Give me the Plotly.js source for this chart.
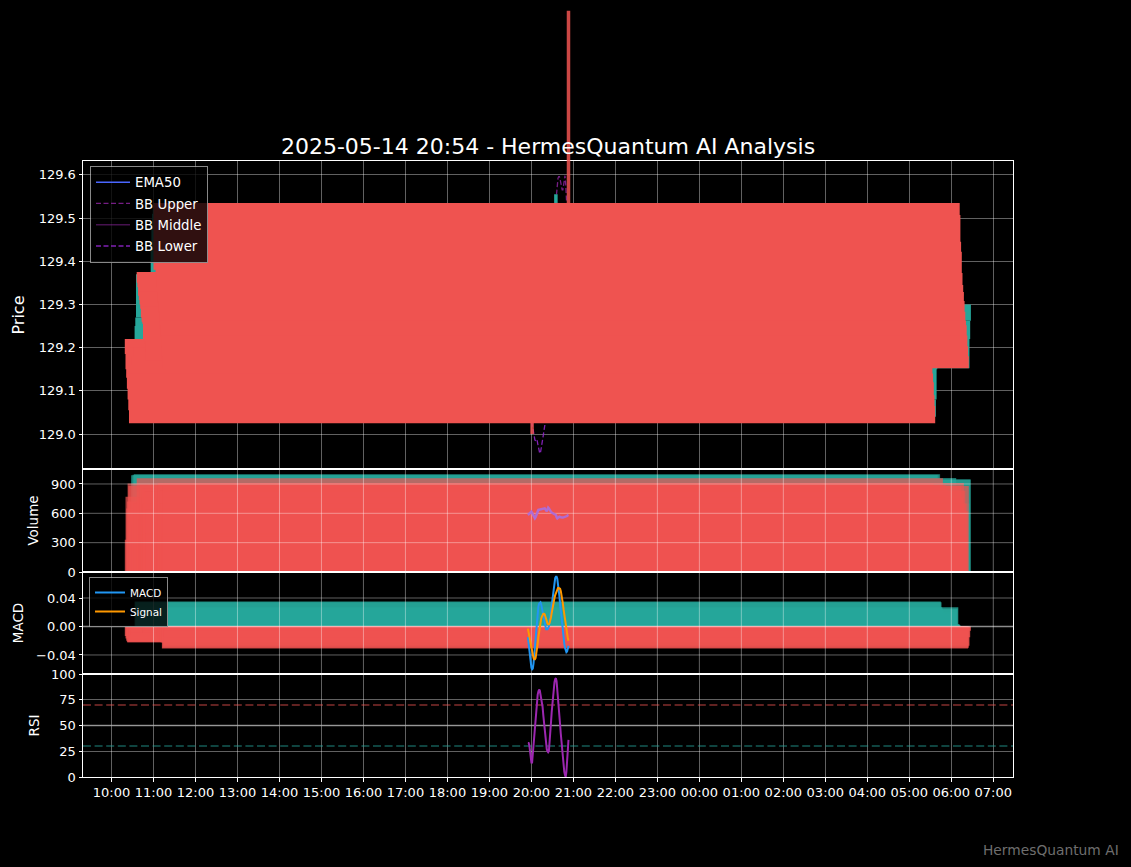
<!DOCTYPE html>
<html><head><meta charset="utf-8">
<script src="https://cdn.plot.ly/plotly-3.0.1.min.js"></script>
<style>html,body{margin:0;padding:0;background:#000;}#chart{width:1131px;height:867px;}</style>
</head><body><div id="chart"></div>
<script>
// ---------------- data ----------------
const DATE = '2025-05-14';
const NEXT_DATE = '2025-05-15';
const candleTimes = ['19:55','19:56','19:57','19:58','19:59',
 '20:00','20:01','20:02','20:03','20:04','20:05','20:06','20:07','20:08','20:09',
 '20:10','20:11','20:12','20:13','20:14','20:15','20:16','20:17','20:18','20:19',
 '20:20','20:21','20:22','20:23','20:24','20:25','20:26','20:27','20:28','20:29',
 '20:30','20:31','20:32','20:33','20:34','20:35','20:36','20:37','20:38','20:39',
 '20:40','20:41','20:42','20:43','20:44','20:45','20:46','20:47','20:48','20:49',
 '20:50','20:51','20:52','20:53'];
const openP = [129.220,129.200,129.160,129.140,129.120,129.090,129.065,129.040,129.080,129.150,
 129.180,129.160,129.200,129.180,129.210,129.250,129.270,129.375,129.365,129.350,
 129.330,129.320,129.305,129.295,129.280,129.275,129.260,129.220,129.245,129.215,
 129.195,129.170,129.210,129.260,129.300,129.330,129.360,129.375,129.430,129.480,
 129.510,129.535,129.507,129.445,129.422,129.373,129.345,129.329,129.308,129.283,
 129.263,129.252,129.228,129.203,129.180,129.152,129.220,129.262,129.300];
const closeP = [129.185,129.150,129.130,129.105,129.080,129.055,129.025,129.080,129.155,129.170,
 129.160,129.200,129.180,129.215,129.250,129.270,129.370,129.350,129.340,129.320,
 129.310,129.300,129.290,129.270,129.260,129.255,129.215,129.240,129.210,129.190,
 129.170,129.210,129.260,129.300,129.330,129.360,129.375,129.430,129.480,129.510,
 129.535,129.380,129.440,129.410,129.370,129.340,129.320,129.305,129.280,129.260,
 129.245,129.225,129.200,129.175,129.152,129.220,129.262,129.300,129.300];
const highP = [129.222,129.205,129.165,129.145,129.125,129.095,129.070,129.085,129.160,129.175,
 129.185,129.205,129.205,129.218,129.255,129.275,129.372,129.375,129.370,129.355,
 129.335,129.325,129.310,129.300,129.285,129.280,129.265,129.245,129.250,129.220,
 129.200,129.215,129.265,129.305,129.335,129.365,129.375,129.435,129.485,129.515,
 129.555,129.535,129.510,129.448,129.425,129.375,129.348,129.330,129.310,129.285,
 129.265,129.254,129.230,129.205,129.182,129.225,129.266,129.303,129.980];
const lowP = [129.180,129.148,129.125,129.100,129.075,129.050,129.000,129.030,129.075,129.145,
 129.155,129.155,129.175,129.175,129.205,129.245,129.265,129.345,129.335,129.315,
 129.305,129.295,129.285,129.265,129.258,129.253,129.210,129.215,129.205,129.185,
 129.165,129.165,129.205,129.255,129.295,129.325,129.355,129.370,129.425,129.475,
 129.505,129.375,129.435,129.405,129.365,129.335,129.315,129.300,129.276,129.256,
 129.242,129.222,129.197,129.172,129.150,129.150,129.216,129.258,129.280];
const volume = [330,770,650,720,905,880,540,610,420,990,
 480,995,700,1000,650,820,450,958,380,760,
 540,890,310,610,850,470,700,560,820,390,
 640,720,480,900,350,610,960,530,760,420,
 870,650,420,880,510,300,760,910,590,830,
 450,700,360,620,880,700,945,945,5];
const volumeMA = [583,592,600,606,612,617,605,588,570,555,
 549,560,580,605,630,635,637,639,640,641,
 643,645,647,649,651,640,625,620,640,658,
 650,634,625,615,608,603,600,595,590,586,
 583,560,549,555,562,566,562,558,557,556,
 556,558,560,562,564,566,572,580,583];
const ema50 = [129.215,129.212,129.208,129.204,129.199,129.194,129.188,129.184,129.183,129.183,
 129.182,129.183,129.183,129.184,129.187,129.190,129.197,129.203,129.208,129.213,
 129.217,129.221,129.224,129.226,129.228,129.229,129.229,129.230,129.229,129.227,
 129.225,129.225,129.226,129.229,129.233,129.238,129.243,129.250,129.259,129.268,
 129.278,129.282,129.288,129.292,129.295,129.297,129.298,129.299,129.298,129.297,
 129.296,129.294,129.291,129.287,129.283,129.280,129.279,129.279,129.280];
const bbUpper = [129.28,129.27,129.27,129.26,129.26,129.25,129.25,129.25,129.26,129.27,
 129.29,129.31,129.33,129.35,129.37,129.39,129.40,129.41,129.42,129.42,
 129.43,129.43,129.43,129.43,129.42,129.42,129.41,129.41,129.40,129.40,
 129.39,129.39,129.40,129.41,129.43,129.45,129.47,129.49,129.51,129.525,
 129.55,129.57,129.585,129.592,129.596,129.596,129.59,129.58,129.57,129.565,
 129.565,129.575,129.59,129.598,129.58,129.53,129.50,129.48,129.46];
const bbMiddle = [129.18,129.17,129.165,129.155,129.15,129.14,129.135,129.13,129.13,129.13,
 129.135,129.148,129.158,129.169,129.174,129.179,129.18,129.183,129.188,129.193,
 129.20,129.21,129.215,129.22,129.22,129.225,129.228,129.23,129.228,129.23,
 129.228,129.23,129.235,129.243,129.255,129.268,129.28,129.295,129.31,129.325,
 129.34,129.355,129.368,129.374,129.378,129.381,129.38,129.375,129.368,129.362,
 129.358,129.358,129.36,129.359,129.345,129.318,129.30,129.29,129.28];
const bbLower = [129.08,129.07,129.06,129.05,129.04,129.03,129.02,129.01,129.00,128.99,
 128.986,128.985,128.987,128.988,128.978,128.968,128.96,128.955,128.957,128.965,
 128.975,128.985,128.997,129.008,129.02,129.035,129.045,129.05,129.055,129.06,
 129.065,129.07,129.07,129.075,129.08,129.085,129.09,129.10,129.11,129.12,
 129.13,129.14,129.15,129.155,129.16,129.165,129.17,129.17,129.165,129.16,
 129.15,129.14,129.13,129.12,129.11,129.105,129.10,129.10,129.10];
const macdLine = [-0.015,-0.025,-0.036,-0.046,-0.054,-0.058,-0.060,-0.059,-0.052,-0.041,
 -0.028,-0.014,-0.001,0.011,0.021,0.028,0.032,0.034,0.034,0.031,
 0.026,0.019,0.012,0.006,0.001,-0.002,-0.004,-0.004,-0.004,-0.002,
 0.000,0.006,0.014,0.023,0.033,0.043,0.052,0.059,0.064,0.068,
 0.070,0.070,0.067,0.061,0.053,0.043,0.032,0.021,0.010,0.000,
 -0.009,-0.017,-0.024,-0.030,-0.034,-0.036,-0.035,-0.031,-0.027];
const signalLine = [-0.003,-0.008,-0.014,-0.020,-0.026,-0.032,-0.037,-0.041,-0.044,-0.046,
 -0.046,-0.044,-0.039,-0.032,-0.024,-0.015,-0.007,0.000,0.006,0.011,
 0.014,0.017,0.018,0.018,0.017,0.014,0.010,0.006,0.004,0.003,
 0.003,0.005,0.008,0.013,0.019,0.026,0.033,0.036,0.040,0.044,
 0.047,0.050,0.052,0.054,0.054,0.054,0.053,0.050,0.045,0.039,
 0.032,0.024,0.016,0.008,0.000,-0.006,-0.012,-0.016,-0.020];
const macdHist = [-0.0135,-0.017,-0.020,-0.022,-0.022,-0.021,-0.019,-0.016,-0.012,-0.008,
 -0.004,-0.002,-0.001,-0.001,0.035,0.034,0.027,0.025,0.022,0.018,
 0.013,0.008,0.003,-0.003,-0.006,-0.008,-0.009,-0.008,-0.006,-0.004,
 -0.002,0.002,0.006,0.010,0.014,0.017,0.020,0.023,0.025,0.027,
 0.003,0.003,0.002,-0.004,-0.008,-0.012,-0.015,-0.017,-0.018,-0.020,
 -0.021,-0.022,-0.022,-0.031,-0.030,-0.027,-0.015,-0.006,0.000];
const rsi = [33,33,31,25,18,14,14,22,33,44,
 54,62,69,75,80,83,85,84,80,77,
 74,68,60,52,44,37,31,27,25,24,
 25,32,42,53,63,72,80,87,92,95,
 96,93,86,78,69,60,51,42,33,25,
 17,10,5,2,0,5,18,30,36];
const hourLabels = ['10:00','11:00','12:00','13:00','14:00','15:00','16:00','17:00','18:00','19:00',
 '20:00','21:00','22:00','23:00','00:00','01:00','02:00','03:00','04:00','05:00','06:00','07:00'];
const priceTicks = [129.0,129.1,129.2,129.3,129.4,129.5,129.6];
const volumeTicks = [0,300,600,900];
const macdTicks = [-0.04,0,0.04];
const rsiTicks = [0,25,50,75,100];
const rsiLevels = [70,30,50];

// ---------------- build ----------------
const GREEN = '#26a69a', RED = '#ef5350';
const FONT = 'DejaVu Sans, Verdana, sans-serif';
const x = candleTimes.map(t => DATE + ' ' + t + ':00');
const BODY_W = 0.8 * 24 * 3600 * 1000;   // matplotlib width 0.8 day
const WICK_W = 5 * 60 * 1000;
let day = DATE, prevH = -1;
const tickDates = hourLabels.map(l => { const h = parseInt(l, 10); if (h < prevH) day = NEXT_DATE; prevH = h; return day + ' ' + l + ':00'; });
const XR = ['2025-05-14 09:19:17', '2025-05-15 07:28:10'];

const up = [], dn = [];
x.forEach((_, i) => (closeP[i] > openP[i] ? up : dn).push(i));
const pick = (arr, idx) => idx.map(i => arr[i]);
const bodyBase = idx => idx.map(i => Math.min(openP[i], closeP[i]));
const bodyH = idx => idx.map(i => Math.abs(closeP[i] - openP[i]));
const wickH = idx => idx.map(i => highP[i] - lowP[i]);

const PH = 777, px = v => v / PH;
const dPrice = [px(308), px(616)], dVol = [px(205), px(308)], dMacd = [px(103), px(205)], dRsi = [0, px(103)];
const PR = [128.919, 129.632], VR = [0, 1053], MR = [-0.0667, 0.0765], RR = [0, 100];
const bodyTop = PR[0] + (PR[1] - PR[0]) * 469 / 308;

const GRID = 'rgba(255,255,255,0.38)';
function gridTrace(xa, ya, yr, yt) {
  const gx = [], gy = [];
  tickDates.forEach(t => { gx.push(t, t, null); gy.push(yr[0], yr[1], null); });
  yt.forEach(v => { gx.push(XR[0], XR[1], null); gy.push(v, v, null); });
  return {type: 'scatter', mode: 'lines', x: gx, y: gy, xaxis: xa, yaxis: ya, line: {color: GRID, width: 1}, hoverinfo: 'skip', showlegend: false};
}

const traces = [
  // price panel lines (below candles)
  {type:'scatter', mode:'lines', x, y: ema50, name:'EMA50', line:{color:'#4a66ff', width:1.5}, legendgroup:'a'},
  {type:'scatter', mode:'lines', x, y: bbUpper, name:'BB Upper', line:{color:'rgba(156,39,176,0.75)', width:1.3, dash:'5px,2.5px'}, legendgroup:'b'},
  {type:'scatter', mode:'lines', x, y: bbMiddle, name:'BB Middle', line:{color:'rgba(156,39,176,0.45)', width:1.3}, legendgroup:'c'},
  {type:'scatter', mode:'lines', x, y: bbLower, name:'BB Lower', line:{color:'rgba(142,36,200,0.9)', width:1.3, dash:'5px,2.5px'}, legendgroup:'d'},
  // volume
  {type:'bar', x: pick(x, up), y: pick(volume, up), width: BODY_W, xaxis:'x2', yaxis:'y2', marker:{color:'rgba(38,166,154,0.7)', line:{width:0}}, showlegend:false, hoverinfo:'skip'},
  {type:'bar', x: pick(x, dn), y: pick(volume, dn), width: BODY_W, xaxis:'x2', yaxis:'y2', marker:{color:'rgba(239,83,80,0.7)', line:{width:0}}, showlegend:false, hoverinfo:'skip'},
  gridTrace('x2', 'y2', VR, volumeTicks.slice(1)),
  {type:'scatter', mode:'lines', x, y: volumeMA, xaxis:'x2', yaxis:'y2', line:{color:'#b06cd2', width:2.5}, showlegend:false},
  // macd
  {type:'bar', x, y: macdHist, width: BODY_W, xaxis:'x3', yaxis:'y3', marker:{color: macdHist.map(v => v >= 0 ? 'rgba(38,166,154,0.8)' : 'rgba(239,83,80,0.8)'), line:{width:0}}, showlegend:false, hoverinfo:'skip'},
  gridTrace('x3', 'y3', MR, macdTicks.filter(v => v !== 0)),
  {type:'scatter', mode:'lines', x: XR, y: [0, 0], xaxis:'x3', yaxis:'y3', line:{color:'rgba(255,255,255,0.55)', width:1.3}, showlegend:false, hoverinfo:'skip'},
  {type:'scatter', mode:'lines', x, y: macdLine, name:'MACD', xaxis:'x3', yaxis:'y3', line:{color:'#2196f3', width:2}, legend:'legend2'},
  {type:'scatter', mode:'lines', x, y: signalLine, name:'Signal', xaxis:'x3', yaxis:'y3', line:{color:'#ff9800', width:2}, legend:'legend2'},
  // rsi
  {type:'scatter', mode:'lines', x: XR, y: [rsiLevels[0], rsiLevels[0]], xaxis:'x4', yaxis:'y4', line:{color:'rgba(239,83,80,0.55)', width:1.5, dash:'8px,3.6px'}, showlegend:false, hoverinfo:'skip'},
  {type:'scatter', mode:'lines', x: XR, y: [rsiLevels[1], rsiLevels[1]], xaxis:'x4', yaxis:'y4', line:{color:'rgba(38,166,154,0.55)', width:1.5, dash:'8px,3.6px'}, showlegend:false, hoverinfo:'skip'},
  {type:'scatter', mode:'lines', x: XR, y: [rsiLevels[2], rsiLevels[2]], xaxis:'x4', yaxis:'y4', line:{color:'rgba(170,170,170,0.75)', width:1.3}, showlegend:false, hoverinfo:'skip'},
  {type:'scatter', mode:'lines', x, y: rsi, xaxis:'x4', yaxis:'y4', line:{color:'#9c27b0', width:2}, showlegend:false},
  // candles (own subplot on top of the price lines; taller so the spike wick can leave the panel)
  {type:'bar', x: pick(x, up), base: pick(lowP, up), y: wickH(up), width: WICK_W, xaxis:'x5', yaxis:'y5', marker:{color:GREEN, line:{width:0}}, showlegend:false, hoverinfo:'skip'},
  {type:'bar', x: pick(x, up), base: bodyBase(up), y: bodyH(up), width: BODY_W, xaxis:'x5', yaxis:'y5', marker:{color:GREEN, line:{width:0}}, showlegend:false, hoverinfo:'skip'},
  {type:'bar', x: pick(x, dn), base: pick(lowP, dn), y: wickH(dn), width: WICK_W, xaxis:'x5', yaxis:'y5', marker:{color:'rgba(239,83,80,0.85)', line:{width:0}}, showlegend:false, hoverinfo:'skip'},
  {type:'bar', x: pick(x, dn), base: bodyBase(dn), y: bodyH(dn), width: BODY_W, xaxis:'x5', yaxis:'y5', marker:{color:RED, line:{width:0}}, showlegend:false, hoverinfo:'skip'}
];

const tickFont = {family: FONT, size: 13, color: '#ffffff'};
const baseX = {type:'date', showline:true, mirror:true, linecolor:'#ffffff', linewidth:1, zeroline:false, showticklabels:false, ticks:'', gridcolor:GRID, gridwidth:1, tickvals: tickDates, ticktext: hourLabels, fixedrange:true};
const baseY = {showline:true, mirror:true, linecolor:'#ffffff', linewidth:1, zeroline:false, ticks:'outside', ticklen:3.5, tickwidth:1, tickcolor:'#ffffff', tickfont: tickFont, gridcolor:GRID, gridwidth:1, fixedrange:true};
const ytitle = (t, s, st) => ({text: t, font: {family: FONT, size: s, color: '#ffffff'}, standoff: st});

const layout = {
  width: 1131, height: 867,
  margin: {l: 83, r: 118, t: 0, b: 90},
  paper_bgcolor: '#000000', plot_bgcolor: 'rgba(0,0,0,0)',
  font: {family: FONT, color: '#ffffff'},
  barmode: 'overlay',
  title: {text: '2025-05-14 20:54 - HermesQuantum AI Analysis', font: {family: FONT, size: 22, color: '#ffffff'}, x: 0.5, xref: 'paper', xanchor: 'center', y: (777 - 146) / 777, yref: 'paper', yanchor: 'middle'},
  xaxis:  Object.assign({}, baseX, {anchor:'y',  range: XR}),
  xaxis2: Object.assign({}, baseX, {anchor:'y2', matches:'x', showgrid:false}),
  xaxis3: Object.assign({}, baseX, {anchor:'y3', matches:'x', showgrid:false}),
  xaxis4: Object.assign({}, baseX, {anchor:'y4', matches:'x', showticklabels:true, ticks:'outside', ticklen:3.5, tickcolor:'#ffffff', tickfont: tickFont}),
  xaxis5: {type:'date', anchor:'y5', matches:'x', visible:false, fixedrange:true},
  yaxis:  Object.assign({}, baseY, {domain: dPrice, range: PR, tickvals: priceTicks, tickformat: '.1f', title: ytitle('Price', 16, 10)}),
  yaxis2: Object.assign({}, baseY, {domain: dVol, range: VR, tickvals: volumeTicks, showgrid:false, title: ytitle('Volume', 13.5, 9)}),
  yaxis3: Object.assign({}, baseY, {domain: dMacd, range: MR, tickvals: macdTicks, tickformat: '.2f', showgrid:false, title: ytitle('MACD', 13.5, 9)}),
  yaxis4: Object.assign({}, baseY, {domain: dRsi, range: RR, tickvals: rsiTicks, title: ytitle('RSI', 13.5, 8)}),
  yaxis5: {domain: [px(308), 1], range: [PR[0], bodyTop], anchor:'x5', visible:false, fixedrange:true},
  legend: {x: 7/930, y: (777-166)/777, xanchor:'left', yanchor:'top', bgcolor:'rgba(0,0,0,0.8)', bordercolor:'rgba(170,170,170,0.8)', borderwidth:1, font:{family: FONT, size:13.3, color:'#ffffff'}, tracegroupgap: 1, itemwidth: 34},
  legend2: {x: 6/930, y: (777-577)/777, xanchor:'left', yanchor:'top', bgcolor:'rgba(0,0,0,0.8)', bordercolor:'rgba(170,170,170,0.8)', borderwidth:1, font:{family: FONT, size:10.4, color:'#ffffff'}},
  annotations: [{text: 'HermesQuantum AI', xref:'paper', yref:'paper', x: (1121-83)/930, y: (777-850)/777, xanchor:'right', yanchor:'middle', showarrow:false, font:{family: FONT, size:13.8, color:'#6e6e6e'}}],
  showlegend: true
};

Plotly.newPlot('chart', traces, layout, {displayModeBar:false, staticPlot:true});
</script></body></html>
